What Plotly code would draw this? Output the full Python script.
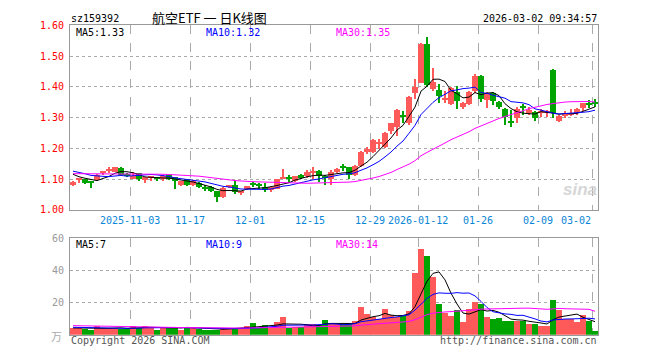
import numpy as np
import plotly.graph_objects as go

# ---------------- data ----------------
open_ = [1.081,1.097,1.099,1.090,1.095,1.121,1.124,1.123,1.135,1.117,
         1.102,1.119,1.095,1.103,1.102,1.102,1.111,1.105,1.079,1.098,
         1.081,1.087,1.074,1.074,1.060,1.040,1.074,1.079,1.056,1.066,
         1.084,1.081,1.074,1.066,1.068,1.101,1.102,1.093,1.111,1.108,
         1.122,1.126,1.105,1.098,1.121,1.138,1.137,1.113,1.143,1.187,
         1.187,1.214,1.205,1.255,1.270,1.304,1.280,1.378,1.413,1.539,
         1.392,1.390,1.358,1.344,1.383,1.332,1.344,1.386,1.434,1.355,
         1.379,1.350,1.326,1.284,1.299,1.333,1.313,1.318,1.316,1.313,
         1.455,1.287,1.303,1.310,1.313,1.329,1.346,1.348]
high = [1.092,1.102,1.100,1.092,1.116,1.126,1.139,1.140,1.137,1.120,
        1.121,1.120,1.107,1.110,1.106,1.111,1.113,1.107,1.094,1.100,
        1.095,1.090,1.081,1.076,1.062,1.072,1.080,1.092,1.062,1.078,
        1.090,1.087,1.086,1.074,1.101,1.133,1.114,1.110,1.115,1.130,
        1.140,1.128,1.114,1.130,1.135,1.147,1.140,1.146,1.190,1.203,
        1.230,1.229,1.252,1.283,1.328,1.320,1.368,1.423,1.540,1.562,
        1.460,1.407,1.385,1.397,1.402,1.350,1.386,1.440,1.436,1.381,
        1.381,1.352,1.330,1.323,1.333,1.344,1.333,1.320,1.326,1.323,
        1.456,1.307,1.320,1.327,1.330,1.347,1.357,1.359]
low = [1.077,1.087,1.084,1.070,1.093,1.114,1.120,1.121,1.110,1.105,
       1.100,1.092,1.087,1.092,1.094,1.092,1.096,1.068,1.077,1.076,
       1.078,1.070,1.061,1.057,1.026,1.037,1.070,1.050,1.047,1.064,
       1.073,1.066,1.056,1.056,1.066,1.098,1.087,1.090,1.098,1.103,
       1.098,1.090,1.079,1.079,1.119,1.127,1.100,1.110,1.140,1.182,
       1.183,1.198,1.200,1.245,1.240,1.282,1.276,1.360,1.410,1.400,
       1.385,1.347,1.345,1.340,1.326,1.326,1.340,1.380,1.350,1.331,
       1.341,1.326,1.274,1.270,1.281,1.307,1.307,1.289,1.302,1.302,
       1.297,1.285,1.297,1.303,1.306,1.320,1.329,1.335]
close = [1.089,1.099,1.087,1.088,1.114,1.124,1.132,1.139,1.114,1.112,
         1.108,1.098,1.105,1.108,1.100,1.108,1.098,1.092,1.092,1.081,
         1.092,1.073,1.068,1.060,1.042,1.070,1.077,1.058,1.060,1.076,
         1.082,1.079,1.064,1.072,1.100,1.106,1.100,1.108,1.104,1.121,
         1.124,1.110,1.103,1.121,1.133,1.136,1.114,1.143,1.187,1.196,
         1.227,1.217,1.250,1.280,1.325,1.302,1.365,1.400,1.539,1.404,
         1.415,1.368,1.361,1.394,1.353,1.345,1.381,1.434,1.360,1.379,
         1.353,1.332,1.302,1.282,1.326,1.331,1.323,1.297,1.320,1.320,
         1.313,1.305,1.310,1.314,1.328,1.345,1.343,1.345]
volume = [4.0,4.0,3.6,2.6,5.6,4.0,4.0,4.0,3.6,3.6,
          5.6,4.0,5.6,4.0,3.2,5.0,5.0,5.0,2.6,5.0,
          4.0,3.6,2.6,3.2,3.2,4.4,4.4,4.4,3.6,5.6,
          7.2,4.0,6.0,4.6,8.0,10.8,4.0,4.6,5.0,6.6,
          6.6,6.0,9.2,6.5,6.5,6.5,6.5,8.7,17.2,12.7,
          10.7,9.5,15.8,12.1,10.7,11.5,14.5,38.2,52.9,48.7,
          36.0,19.0,13.5,11.5,15.2,7.9,15.8,20.0,18.8,10.9,
          9.7,10.3,8.7,8.7,8.7,8.7,6.7,6.7,5.5,5.5,
          21.8,15.2,9.5,9.5,7.9,11.9,8.5,2.4]

# closes / volumes before the visible window, estimated from where the MA lines start
prior_close = [1.100,1.105,1.110,1.120,1.115,1.108,1.112,1.118,1.122,1.116,
               1.110,1.105,1.112,1.120,1.125,1.118,1.110,1.112,1.118,1.124,
               1.130,1.138,1.142,1.136,1.134,1.139,1.112,1.103,1.137]
prior_volume = [6.5,5.8,7.2,6.0,5.5,6.8,6.2,5.6,6.4,5.9,
                6.3,5.7,6.1,6.6,5.8,6.0,5.9,6.2,5.7,6.0,
                5.2,4.8,5.4,4.9,4.7,4.5,4.0,4.2,4.3]

tick_index = [10, 20, 30, 40, 50, 58, 68, 78, 87]
tick_labels = ["2025-11-03", "11-17", "12-01", "12-15", "12-29",
               "2026-01-12", "01-26", "02-09", "03-02"]
price_ticks = [1.0, 1.1, 1.2, 1.3, 1.4, 1.5, 1.6]
volume_ticks = [20, 40, 60]
legend_volume = [7, 9, 14]   # as printed in the volume legend

# ---------------- derived ----------------
n = len(close)
idx = np.arange(n)
o = np.array(open_); c = np.array(close); h = np.array(high); l = np.array(low)
v = np.array(volume)
up = c >= o
RED, GREEN = "#ff5a5a", "#00a400"
cols = [RED if u else GREEN for u in up]

def ma(prior, vals, k):
    s = np.concatenate([prior, vals])
    out = np.convolve(s, np.ones(k) / k, mode="valid")
    return out[-len(vals):]

pc = [ma(np.array(prior_close), c, k) for k in (5, 10, 30)]
pv = [ma(np.array(prior_volume), v, k) for k in (5, 10, 30)]

W, H = 660, 360
L_PX, R_PX = 70, 598
def px(x): return x / W
def py(y): return 1 - y / H

fig = go.Figure()

# wicks
fig.add_trace(go.Bar(x=idx, base=l, y=h - l, width=0.17, marker=dict(color=cols, line=dict(width=0)),
                     xaxis="x", yaxis="y", hoverinfo="skip"))
# bodies
body_base = np.minimum(o, c)
body_h = np.maximum(np.abs(c - o), 0.0035)
fig.add_trace(go.Bar(x=idx, base=body_base, y=body_h, width=0.84, marker=dict(color=cols, line=dict(width=0)),
                     xaxis="x", yaxis="y", hoverinfo="skip"))
ma_cols = ["#000000", "#0000ff", "#ff00ff"]
for arr, col in zip(pc, ma_cols):
    fig.add_trace(go.Scatter(x=idx, y=arr, mode="lines", line=dict(color=col, width=1),
                             xaxis="x", yaxis="y", hoverinfo="skip"))

# volume
fig.add_trace(go.Bar(x=idx, y=v, width=0.84, marker=dict(color=cols, line=dict(width=0)),
                     xaxis="x2", yaxis="y2", hoverinfo="skip"))
for arr, col in zip(pv, ma_cols):
    fig.add_trace(go.Scatter(x=idx, y=arr, mode="lines", line=dict(color=col, width=1),
                             xaxis="x2", yaxis="y2", hoverinfo="skip"))

MONO = "DejaVu Sans Mono"
grid_x = [t - 0.5 for t in tick_index]
xcommon = dict(range=[-0.5, n - 0.5], domain=[px(L_PX), px(R_PX)], tickvals=grid_x,
               showticklabels=False, showgrid=True, gridcolor="#aaaaaa", griddash="dash",
               gridwidth=1, zeroline=False, showline=True, mirror=True, linecolor="#999999",
               linewidth=1, ticks="", fixedrange=True)
fig.update_layout(
    width=W, height=H, margin=dict(l=0, r=0, t=0, b=0),
    paper_bgcolor="white", plot_bgcolor="white", showlegend=False,
    barmode="overlay", bargap=0,
    xaxis=dict(**xcommon, anchor="y"),
    xaxis2=dict(**xcommon, anchor="y2"),
    yaxis=dict(domain=[py(211), py(20)], range=[1.0, 1.6], tickvals=price_ticks,
               ticktext=[f"{t:.2f}" for t in price_ticks],
               tickfont=dict(family=MONO, size=10, color="#ff0000"),
               showgrid=True, gridcolor="#aaaaaa", griddash="dot", zeroline=False,
               showline=True, mirror=True, linecolor="#999999", ticks="outside",
               ticklen=3, tickcolor="rgba(0,0,0,0)", anchor="x"),
    yaxis2=dict(domain=[py(340), py(240)], range=[0, 60], tickvals=volume_ticks,
                ticktext=[str(t) for t in volume_ticks],
                tickfont=dict(family=MONO, size=10, color="#999999"),
                showgrid=True, gridcolor="#aaaaaa", griddash="dot", zeroline=False,
                showline=True, mirror=True, linecolor="#999999", ticks="outside",
                ticklen=3, tickcolor="rgba(0,0,0,0)", anchor="x2"),
)

ann = []
def text(x, y, s, color="#000", size=10, xanchor="left", family=MONO, **kw):
    ann.append(dict(x=px(x), y=py(y), xref="paper", yref="paper", text=s, showarrow=False,
                    xanchor=xanchor, yanchor="middle", font=dict(family=family, size=size, color=color), **kw))

text(69, 13, "sz159392")
text(209, 12, "航空ETF 一 日K线图", size=13, xanchor="center", family="Noto Sans CJK SC")
text(599, 13, "2026-03-02 09:34:57", xanchor="right")
text(74, 27, f"MA5:{pc[0][-1]:.2f}")
text(204, 27, f"MA10:{pc[1][-1]:.2f}", color="#0000ff")
text(334, 27, f"MA30:{pc[2][-1]:.2f}", color="#ff00ff")
text(74, 247, f"MA5:{legend_volume[0]}")
text(204, 247, f"MA10:{legend_volume[1]}", color="#0000ff")
text(334, 247, f"MA30:{legend_volume[2]}", color="#ff00ff")
text(69, 346, "Copyright 2026 SINA.COM", color="#555555")
text(599, 346, "http://finance.sina.com.cn", color="#555555", xanchor="right")
text(64, 341, "万", size=11, color="#aaaaaa", xanchor="right", family="Noto Sans CJK SC")
text(580, 190, "<b><i>sina</i></b>", size=17, color="#d6d6d6", xanchor="center", family="Arial, Liberation Sans")

for t, lab in zip(tick_index, tick_labels):
    xa = "right" if t == tick_index[-1] else "center"
    ann.append(dict(x=t - 0.5 + (0.1 if xa == "right" else 0), y=py(222), xref="x", yref="paper", text=lab,
                    showarrow=False, xanchor=xa, yanchor="middle",
                    font=dict(family=MONO, size=10, color="#0a86d6")))
fig.update_layout(annotations=ann)

fig.write_html("out.html")
